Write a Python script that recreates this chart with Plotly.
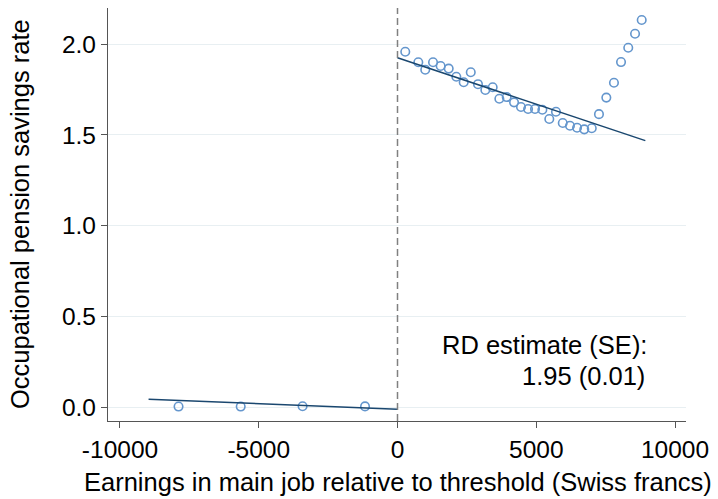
import plotly.graph_objects as go

# Binned means of the occupational pension savings rate, by earnings bin
# (earnings in main job relative to the threshold, Swiss francs)
bin_x_left = [-7890, -5650, -3420, -1170]
rate_left = [0.003, 0.003, 0.005, 0.004]

bin_x_right = [280, 750, 1000, 1280, 1555, 1845, 2120, 2385, 2640, 2900,
               3165, 3430, 3670, 3935, 4200, 4450, 4705, 4955, 5220, 5470,
               5710, 5955, 6215, 6470, 6730, 7000, 7260, 7525, 7800, 8055,
               8315, 8560, 8800]
rate_right = [1.959, 1.901, 1.860, 1.901, 1.880, 1.866, 1.821, 1.791, 1.846, 1.780,
              1.748, 1.763, 1.700, 1.709, 1.680, 1.654, 1.643, 1.643, 1.639, 1.588,
              1.628, 1.566, 1.551, 1.540, 1.531, 1.537, 1.615, 1.706, 1.788, 1.902,
              1.981, 2.058, 2.134]

# Linear fits on each side of the threshold
fit_x_left = [-8970, 0]
fit_y_left = [0.043, -0.012]
fit_x_right = [0, 8930]
fit_y_right = [1.926, 1.469]

x_ticks = [-10000, -5000, 0, 5000, 10000]
x_tick_labels = ["-10000", "-5000", "0", "5000", "10000"]
y_ticks = [0.0, 0.5, 1.0, 1.5, 2.0]
y_tick_labels = ["0.0", "0.5", "1.0", "1.5", "2.0"]

rd_label = "RD estimate (SE):"
rd_value = "1.95 (0.01)"

FONT = "Liberation Sans, Arial, Helvetica, sans-serif"
MARKER_BLUE = "#6496cd"
FIT_NAVY = "#1a476f"

fig = go.Figure()

marker_style = dict(symbol="circle-open", size=8.5,
                    color=MARKER_BLUE, line=dict(color=MARKER_BLUE, width=1.6))

fig.add_trace(go.Scatter(x=bin_x_left, y=rate_left, mode="markers",
                         marker=marker_style, showlegend=False))
fig.add_trace(go.Scatter(x=bin_x_right, y=rate_right, mode="markers",
                         marker=marker_style, showlegend=False))

fig.add_trace(go.Scatter(x=fit_x_left, y=fit_y_left, mode="lines",
                         line=dict(color=FIT_NAVY, width=1.5), showlegend=False))
fig.add_trace(go.Scatter(x=fit_x_right, y=fit_y_right, mode="lines",
                         line=dict(color=FIT_NAVY, width=1.5), showlegend=False))

# Threshold marker
fig.add_vline(x=0, line=dict(color="#808080", width=1.5, dash="7px,4px"))

fig.add_annotation(x=9050, y=0.342, xref="x", yref="y", text=rd_label,
                   showarrow=False, xanchor="right", yanchor="middle",
                   font=dict(family=FONT, size=25.5, color="black"))
fig.add_annotation(x=8990, y=0.171, xref="x", yref="y", text=rd_value,
                   showarrow=False, xanchor="right", yanchor="middle",
                   font=dict(family=FONT, size=25.5, color="black"))

# Axis titles
fig.add_annotation(x=-0.153, y=0.5, xref="paper", yref="paper",
                   text="Occupational pension savings rate", textangle=-90,
                   showarrow=False, xanchor="center", yanchor="middle",
                   font=dict(family=FONT, size=25.5, color="black"))
fig.add_annotation(x=0.502, y=-0.148, xref="paper", yref="paper",
                   text="Earnings in main job relative to threshold (Swiss francs)",
                   showarrow=False, xanchor="center", yanchor="middle",
                   font=dict(family=FONT, size=25.5, color="black"))

fig.update_layout(
    width=718, height=499,
    margin=dict(l=108, r=32, t=8, b=78),
    paper_bgcolor="white", plot_bgcolor="white",
    font=dict(family=FONT, color="black"),
    showlegend=False,
)

fig.update_xaxes(
    range=[-10432, 10396],
    tickmode="array", tickvals=x_ticks, ticktext=x_tick_labels,
    tickfont=dict(family=FONT, size=24.5, color="black"),
    ticks="outside", ticklen=6, tickwidth=1.3, tickcolor="#555555",
    showline=True, linecolor="#555555", linewidth=1.3,
    showgrid=False, zeroline=False,
)
fig.update_yaxes(
    range=[-0.0766, 2.2],
    tickmode="array", tickvals=y_ticks, ticktext=y_tick_labels,
    tickfont=dict(family=FONT, size=24.5, color="black"),
    ticks="outside", ticklen=6, tickwidth=1.3, tickcolor="#555555",
    showline=True, linecolor="#555555", linewidth=1.3,
    showgrid=True, gridcolor="#e8eff2", gridwidth=1.2, zeroline=False,
)

fig.write_html("out.html")
